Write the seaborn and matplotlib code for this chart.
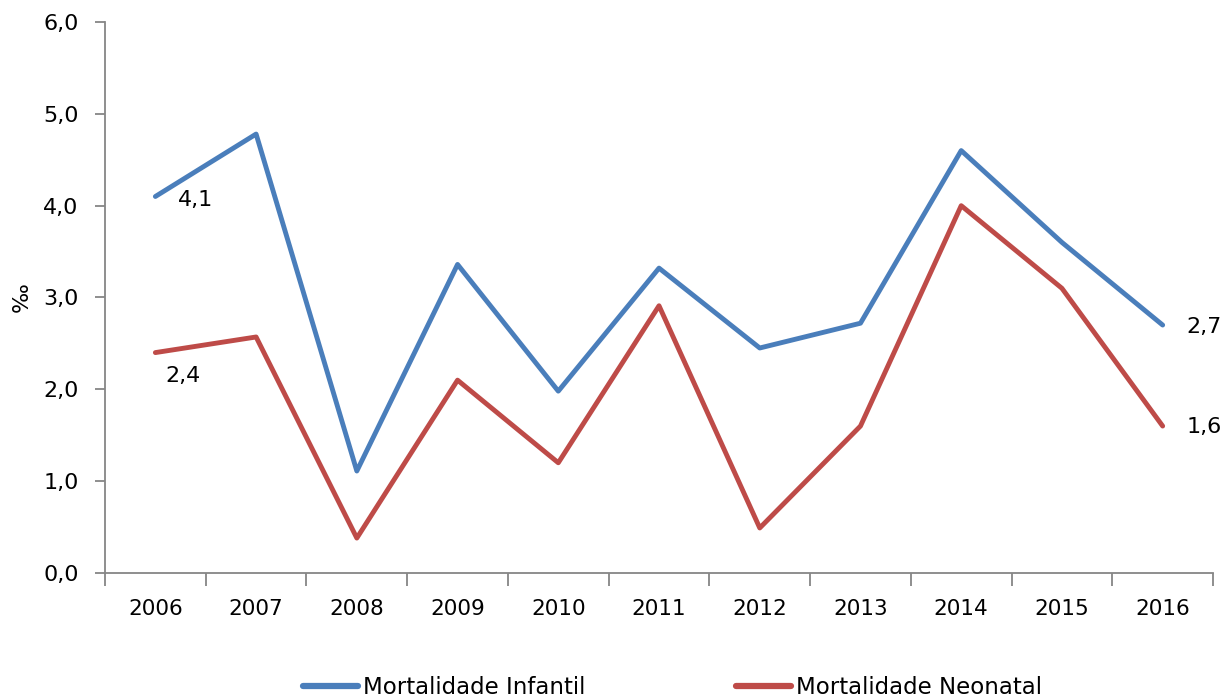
import pandas as pd
import seaborn as sns
import matplotlib.pyplot as plt
from matplotlib.ticker import FixedLocator, FuncFormatter

years = list(range(2006, 2017))
infantil = [4.1, 4.78, 1.11, 3.36, 1.98, 3.32, 2.45, 2.72, 4.6, 3.6, 2.7]
neonatal = [2.4, 2.57, 0.38, 2.1, 1.2, 2.91, 0.49, 1.6, 4.0, 3.1, 1.6]
series_names = ['Mortalidade Infantil', 'Mortalidade Neonatal']

df = pd.DataFrame({'ano': years * 2,
                   'valor': infantil + neonatal,
                   'serie': [series_names[0]] * len(years) + [series_names[1]] * len(years)})

sns.set_style('white')
plt.rcParams['font.family'] = ['DejaVu Sans']
plt.rcParams['text.color'] = 'black'
plt.rcParams['axes.labelcolor'] = 'black'

fig, ax = plt.subplots(figsize=(12.31, 6.99), dpi=100)
fig.subplots_adjust(left=0.0853, right=0.9854, top=0.9685, bottom=0.1803)

sns.lineplot(data=df, x='ano', y='valor', hue='serie', ax=ax,
             palette=['#4A7EBB', '#BE4B48'], linewidth=3.5, legend=False)

ax.set_xlim(years[0] - 0.5, years[-1] + 0.5)
ax.set_ylim(0, 6)
ax.set_yticks([0, 1, 2, 3, 4, 5, 6])
ax.yaxis.set_major_formatter(FuncFormatter(lambda v, p: f'{v:.1f}'.replace('.', ',')))
ax.set_xticks(years)
ax.set_xticklabels([str(y) for y in years])
ax.xaxis.set_minor_locator(FixedLocator([y - 0.5 for y in years] + [years[-1] + 0.5]))
ax.tick_params(axis='x', which='major', length=0, labelsize=15.5, pad=19, labelcolor='black')
ax.tick_params(axis='x', which='minor', length=9, width=1.3, color='#868686', direction='out', bottom=True)
ax.tick_params(axis='y', length=7, width=1.3, color='#868686', direction='out', left=True,
               labelsize=16, pad=12, labelcolor='black')

for side in ['top', 'right']:
    ax.spines[side].set_visible(False)
for side in ['left', 'bottom']:
    ax.spines[side].set_color('#868686')
    ax.spines[side].set_linewidth(1.3)

ax.set_xlabel('')
ax.set_ylabel('‰', fontsize=16, labelpad=8)

# data labels on first and last points
ax.annotate('4,1', (years[0], infantil[0]), xytext=(23, -4), textcoords='offset pixels',
            fontsize=16, ha='left', va='center')
ax.annotate('2,4', (years[0], neonatal[0]), xytext=(10, -23), textcoords='offset pixels',
            fontsize=16, ha='left', va='center')
ax.annotate('2,7', (years[-1], infantil[-1]), xytext=(24, -2), textcoords='offset pixels',
            fontsize=16, ha='left', va='center')
ax.annotate('1,6', (years[-1], neonatal[-1]), xytext=(24, -1), textcoords='offset pixels',
            fontsize=16, ha='left', va='center')

handles = [plt.Line2D([], [], color=c, linewidth=4.5, solid_capstyle='round') for c in ['#4A7EBB', '#BE4B48']]
fig.legend(handles, series_names, loc='center', bbox_to_anchor=(0.5463, 0.017), ncol=2,
           frameon=False, fontsize=16.5, handlelength=2.4, handletextpad=0.22, columnspacing=6.55)

fig.savefig('out.png', dpi=100)
